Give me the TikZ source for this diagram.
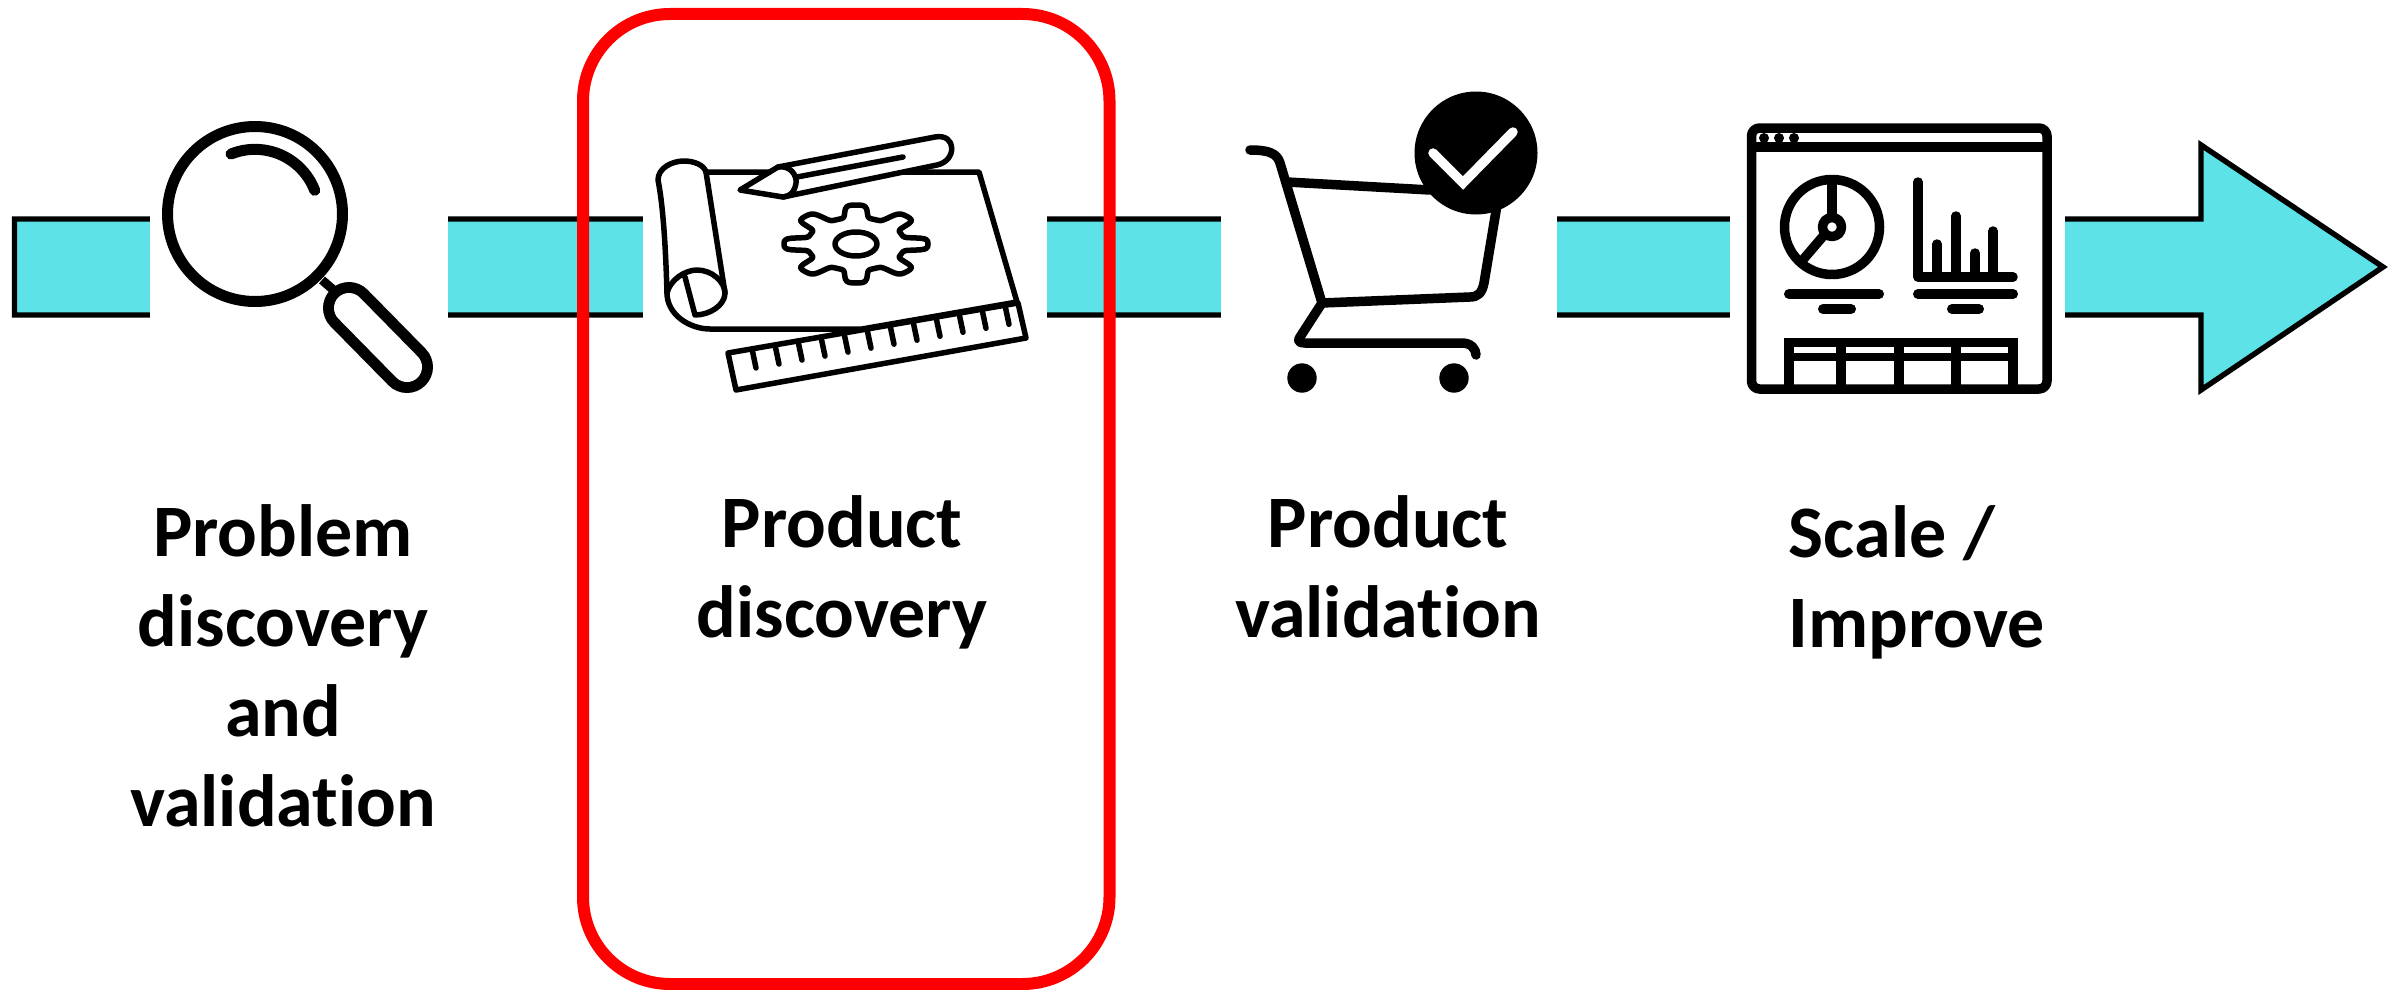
\documentclass[tikz,border=0pt]{standalone}
\usepackage{fontspec}
\setmainfont{Carlito}[Ligatures=NoCommon]
\usetikzlibrary{positioning}
\definecolor{barcyan}{RGB}{92,226,231}
\tikzset{arrowbar/.style={
            draw,
            fill=barcyan,
            line width=5.4pt,
            miter limit=10
        },
        gap/.style={
            fill=white,
            draw=none
        },
        icon/.style={
            draw,
            line width=5.5pt,
            line cap=round,
            line join=round
        },
        thickicon/.style={
            draw,
            line width=9.5pt,
            line cap=round,
            line join=round
        },
        steplabel/.style={
            font=\fontsize{74}{90}\selectfont\bfseries,
            align=center,
            inner sep=0pt
        },
        focusbox/.style={
            draw=red,
            line width=12pt,
            rounded corners=87pt
        }
    }

\begin{document}
\begin{tikzpicture}[x=1pt,y=-1pt]
        \useasboundingbox (0,0) rectangle (2396,990);

        % long arrow, cut by white gaps
        \draw[arrowbar] (14.5,219) -- (2201,219) -- (2201,145) -- (2383,267) -- (2201,390) -- (2201,315) -- (14.5,315) -- cycle;
        \foreach \from/\to in {150/448,643/1047,1221/1557,1730/2065}
            \fill[gap] (\from,205) rectangle (\to,330);

        % magnifier
        \draw[thickicon,line width=11pt] (255,214) circle[radius=87.5pt];
        \draw[thickicon,line width=11pt] (231,154) arc[start angle=112,end angle=21,radius=64pt];
        \draw[thickicon,line width=9pt,line cap=butt] (322,280) -- (337,293);
        \draw[line width=52pt,line cap=round] (349,308) -- (407,367);
        \draw[line width=30pt,line cap=round,white] (349,308) -- (407,367);

        % blueprint
        \draw[icon] (667,293) .. controls (667,315) and (690,329) .. (710,329) -- (862,329) -- (1017,302) -- (979,172) -- (706,172);
        \draw[icon] (667,293) .. controls (666,260) and (664,210) .. (658,180) .. controls (658,168) and (672,161) .. (684,161) .. controls (694,161) and (704,165) .. (706,172) -- (725,293);
        \draw[icon] (667,293) .. controls (670,280) and (685,270) .. (697,270) .. controls (712,270) and (725,282) .. (725,293) .. controls (725,305) and (710,315) .. (695,315) -- (685,277);
        \draw[icon,fill=white] (728,353) -- (1018,303) -- (1026,338) -- (736,390) -- cycle;
        \foreach \tick in {0,...,11}
            \draw[icon] ({752+23*\tick},{349-3.97*\tick}) -- ++(4,19);
        \draw[icon,fill=white] (740,190) -- (778,167) -- (935,137) .. controls (957,133) and (957,161) .. (937,165) -- (783,197) -- cycle;
        \draw[icon] (778,167) .. controls (790,165) and (797,175) .. (796,183) .. controls (795,191) and (790,197) .. (783,197);
        \draw[icon] (797,177) -- (903,157);
        \draw[icon] plot[domain=0:360,samples=193,smooth] ({856+72*(0.84+0.16*tanh(2.5*cos(8*\x)-0.2)/tanh(2.3))*cos(\x)},{244+39*(0.84+0.16*tanh(2.5*cos(8*\x)-0.2)/tanh(2.3))*sin(\x)});
        \draw[icon] (856,244) ellipse[x radius=21pt,y radius=12pt];

        % cart
        \draw[thickicon] (1250,150) .. controls (1268,150) and (1277,153) .. (1280,163) -- (1322,303) -- (1300,337) .. controls (1297,341) and (1299,343) .. (1305,343) -- (1462,343) .. controls (1471,343) and (1476,349) .. (1476,355);
        \draw[thickicon] (1287,182) -- (1430,190);
        \draw[thickicon] (1497,205) -- (1484,283) .. controls (1482,293) and (1478,297) .. (1470,297) -- (1322,303);
        \fill (1302,378) circle[radius=14.7pt];
        \fill (1454,378) circle[radius=14.7pt];
        \fill (1476,153) circle[radius=61.5pt];
        \draw[line width=9.5pt,white,line cap=round,line join=miter] (1433,153) -- (1463,183) -- (1513,132);

        % dashboard
        \draw[thickicon,rounded corners=8pt] (1751.5,389) -- (1751.5,128) -- (2047,128) -- (2047,389) -- cycle;
        \draw[thickicon,line cap=butt] (1751.5,147) -- (2047,147);
        \foreach \dotx in {1764,1779,1794}
            \fill (\dotx,138) circle[radius=5pt];
        \draw[thickicon] (1832,227) circle[radius=47.5pt];
        \draw[thickicon] (1832,227) circle[radius=9.5pt];
        \draw[thickicon,line cap=butt] (1832,180) -- (1832,217);
        \draw[thickicon,line cap=butt] (1825,234) -- (1801,262);
        \draw[thickicon] (1918,182) -- (1918,277) -- (2013,277);
        \foreach \barx/\bartop in {1937/244,1956/216,1975/253,1993/231}
            \draw[thickicon,line cap=round] (\barx,\bartop) -- (\barx,277);
        \draw[thickicon,line width=10pt] (1789,294) -- (1879,294);
        \draw[thickicon,line width=10pt] (1918,294) -- (2013,294);
        \draw[thickicon,line width=10pt] (1823,309) -- (1851,309);
        \draw[thickicon,line width=10pt] (1952,309) -- (1979,309);
        \draw[thickicon,line width=9pt,line cap=butt] (1784,342.5) -- (2018,342.5);
        \draw[thickicon,line width=8pt,line cap=butt] (1784,357) -- (2018,357);
        \foreach \colx in {1789,1841,1899,1956,2013}
            \draw[thickicon,line cap=butt] (\colx,338) -- (\colx,389);

        \node[steplabel] at (283,666) (problem) {Problem\\discovery\\and\\validation};
        \node[steplabel] at (842,572) (discovery) {Product\\discovery};
        \node[steplabel] at (1388,567) (validation) {Product\\validation};
        \node[steplabel,align=left] at (1917,582) (scale) {Scale /\\Improve};

        \draw[focusbox] (583,14) rectangle (1109.5,984);

    \end{tikzpicture}
\end{document}
